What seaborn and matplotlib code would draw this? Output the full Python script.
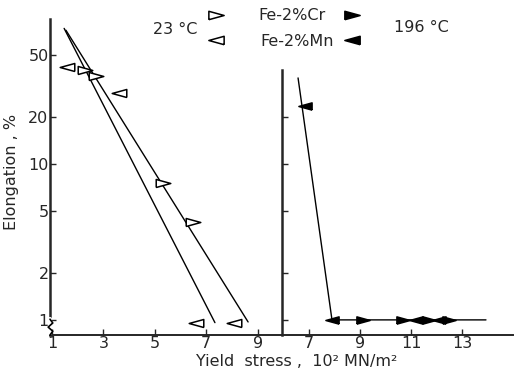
import matplotlib
matplotlib.use('Agg')
import matplotlib.pyplot as plt
from matplotlib.lines import Line2D
from matplotlib.ticker import FixedLocator, NullLocator
import seaborn as sns

# ── Data ───────────────────────────────────────────────────────
# 23 C panel
cr23_x = [2.3, 2.7, 5.3, 6.5]
cr23_y = [40, 36.5, 7.6, 4.25]
mn23_x = [1.6, 3.6, 6.6, 8.1]
mn23_y = [42, 28.5, 0.96, 0.96]
fit23a_x = [1.47, 7.34]
fit23a_y = [74, 0.96]
fit23b_x = [1.54, 8.63]
fit23b_y = [72, 0.97]

# 196 C panel
cr196_x = [9.1, 10.7, 11.7, 12.5]
cr196_y = [1.0, 1.0, 1.0, 1.0]
mn196_x = [6.85, 7.9, 11.2, 12.1]
mn196_y = [23.5, 1.0, 1.0, 1.0]
fit196_x = [6.57, 7.9, 13.94]
fit196_y = [35.6, 1.0, 1.0]

yticks = [1, 2, 5, 10, 20, 50]
yticks_right = [1, 2, 5, 10, 20]
xticks_left = [1, 3, 5, 7, 9]
xticks_right = [7, 9, 11, 13]

# ── Style ──────────────────────────────────────────────────────
sns.set_style('ticks')
plt.rcParams['font.family'] = ['DejaVu Sans']
FS = 11.5

RIGHT_TRI = [(-1, -0.55), (1, 0), (-1, 0.55), (-1, -0.55)]
LEFT_TRI = [(1, -0.55), (-1, 0), (1, 0.55), (1, -0.55)]

W, H = 516, 372
fig = plt.figure(figsize=(W / 100, H / 100), dpi=100)
ax1 = fig.add_axes([50 / W, 37 / H, 232 / W, 316 / H])
ax2 = fig.add_axes([282 / W, 37 / H, 231 / W, 316 / H])


def pts(ax, x, y, marker, fill, s=110):
    sns.scatterplot(x=x, y=y, ax=ax, marker=marker, s=s, color=fill,
                    edgecolor='black', linewidth=1.1, zorder=3, clip_on=False)


def line(ax, x, y):
    sns.lineplot(x=x, y=y, ax=ax, color='black', lw=1.0, sort=False,
                 estimator=None, zorder=2)


line(ax1, fit23a_x, fit23a_y)
line(ax1, fit23b_x, fit23b_y)
pts(ax1, cr23_x, cr23_y, RIGHT_TRI, 'white')
pts(ax1, mn23_x, mn23_y, LEFT_TRI, 'white')

line(ax2, fit196_x, fit196_y)
pts(ax2, cr196_x, cr196_y, RIGHT_TRI, 'black', s=90)
pts(ax2, mn196_x, mn196_y, LEFT_TRI, 'black', s=90)

for ax, xl, xt in [(ax1, (0.92, 9.95), xticks_left),
                   (ax2, (5.94, 15.0), xticks_right)]:
    ax.set_yscale('log')
    ax.set_ylim(0.8, 85)
    ax.set_xlim(*xl)
    ax.yaxis.set_minor_locator(NullLocator())
    ax.set_xticks(xt)
    ax.set_xticklabels([str(v) for v in xt], fontsize=FS)
    ax.tick_params(direction='in', length=4, width=1, pad=1)
    for s in ['top', 'right']:
        ax.spines[s].set_visible(False)
    ax.spines['left'].set_linewidth(1.8)
    ax.spines['bottom'].set_linewidth(1.4)
    ax.set_xlabel('')
    ax.set_ylabel('')
    ax.patch.set_alpha(0)

ax1.yaxis.set_major_locator(FixedLocator(yticks))
ax1.set_yticklabels([str(v) for v in yticks], fontsize=FS)
ax2.yaxis.set_major_locator(FixedLocator(yticks_right))
ax2.set_yticklabels([])
ax2.spines['left'].set_bounds(0.8, 40)

# axis break squiggle on the y axis
ax1.plot([0, 0], [0.005, 0.05], transform=ax1.transAxes, color='white',
         lw=3, clip_on=False, zorder=5)
ax1.plot([0.0, 0.012, -0.008, 0.012, 0.0], [0.05, 0.038, 0.025, 0.012, 0.0],
         transform=ax1.transAxes, color='black', lw=1.2, clip_on=False, zorder=6)

# ── Labels ─────────────────────────────────────────────────────
def ftext(px, py, s, **kw):
    fig.text(px / W, 1 - py / H, s, fontsize=FS, ha='center', va='center', **kw)


ftext(12, 172, 'Elongation , %', rotation=90)
ftext(297, 361, 'Yield  stress ,  10² MN/m²')
ftext(175, 30, '23 °C')
ftext(421, 28, '196 °C')
ftext(292, 16, 'Fe-2%Cr')
ftext(297, 41, 'Fe-2%Mn')


def key(px, py, marker, fill):
    fig.add_artist(Line2D([px / W], [1 - py / H], marker=marker, ms=11,
                          mfc=fill, mec='black', mew=1.1, ls='none',
                          transform=fig.transFigure))


key(216, 15, RIGHT_TRI, 'white')
key(216, 40, LEFT_TRI, 'white')
key(352, 15, RIGHT_TRI, 'black')
key(352, 40, LEFT_TRI, 'black')

fig.savefig('out.png', dpi=100)
